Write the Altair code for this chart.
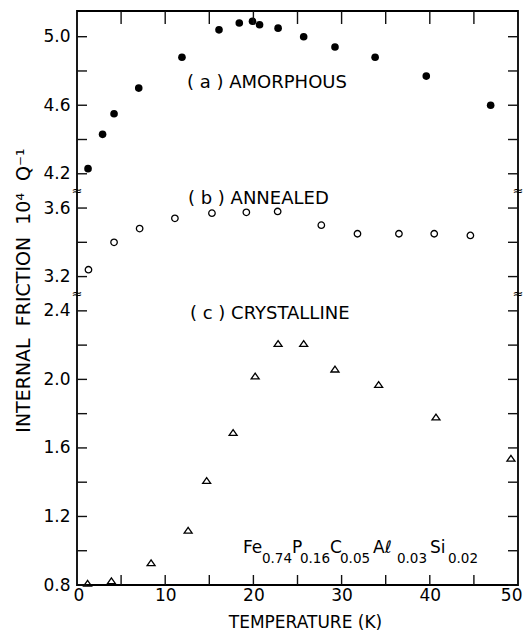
import altair as alt
import pandas as pd

# Internal friction (10^4 Q^-1) against temperature (K) for the three states
amorphous_T = [1.25, 2.9, 4.2, 7.0, 11.9, 16.1, 18.4, 19.9, 20.7, 22.8, 25.7, 29.25, 33.8, 39.6, 46.9]
amorphous_Q = [4.23, 4.43, 4.55, 4.70, 4.88, 5.04, 5.08, 5.09, 5.07, 5.05, 5.00, 4.94, 4.88, 4.77, 4.60]

annealed_T = [1.3, 4.2, 7.1, 11.1, 15.3, 19.2, 22.75, 27.7, 31.8, 36.5, 40.5, 44.6]
annealed_Q = [3.24, 3.40, 3.48, 3.54, 3.57, 3.575, 3.58, 3.50, 3.45, 3.45, 3.45, 3.44]

crystalline_T = [1.2, 3.9, 8.4, 12.6, 14.7, 17.7, 20.2, 22.8, 25.7, 29.25, 34.2, 40.7, 49.2]
crystalline_Q = [0.81, 0.825, 0.93, 1.12, 1.41, 1.69, 2.02, 2.21, 2.21, 2.06, 1.97, 1.78, 1.54]

# y axis ticks of the three bands, and the ones that carry a label
y_ticks_low = [0.8, 1.0, 1.2, 1.4, 1.6, 1.8, 2.0, 2.2, 2.4]
y_ticks_mid = [3.2, 3.4, 3.6]
y_ticks_high = [4.2, 4.4, 4.6, 4.8, 5.0]
y_labels = ["0.8", "1.2", "1.6", "2.0", "2.4", "3.2", "3.6", "4.2", "4.6", "5.0"]

x_labels = [0, 10, 20, 30, 40, 50]
x_inner_ticks = [5, 10, 15, 20, 25, 30, 35, 40, 45]

state_labels = ["( a ) AMORPHOUS", "( b ) ANNEALED", "( c ) CRYSTALLINE"]
state_label_T = [12.47, 12.58, 12.81]
state_label_Q = [4.73, 3.655, 2.383]

formula_main = ["Fe", "P", "C", "A\u2113", "Si"]
formula_main_T = [18.82, 24.38, 28.68, 33.56, 40.02]
formula_sub = ["0.74", "0.16", "0.05", "0.03", "0.02"]
formula_sub_T = [20.97, 25.28, 29.82, 36.28, 42.06]
formula_Q = 0.985

# the y axis is broken twice; each band is shifted down so the bands stack
MID_SHIFT = 0.6
HIGH_SHIFT = 1.0
BREAKS = [2.5, 3.1]
X_MIN, X_MAX = 0, 50
D_MIN, D_MAX = 0.8, 4.15


def squeeze(v):
    if v < 3.0:
        return round(v, 4)
    if v < 3.9:
        return round(v - MID_SHIFT, 4)
    return round(v - HIGH_SHIFT, 4)


FONT = "DejaVu Sans"
W, H = 441, 574
SP = "\u00a0\u00a0"  # wide word gap in the y title
INK = "#111111"

# pixel lengths of the inward ticks, turned into data units
PX_T = W / (X_MAX - X_MIN)
PX_D = H / (D_MAX - D_MIN)
SIDE_TICK = 10 / PX_T
BOTTOM_TICK = 10 / PX_D
TOP_TICK = 13 / PX_D
INSET_T = 0.2 / PX_T
INSET_D = 0.2 / PX_D

y_tick_pos = [squeeze(v) for v in y_ticks_low + y_ticks_mid + y_ticks_high]
label_keys = [round(squeeze(float(s)) * 10) for s in y_labels]
y_label_expr = (
    f"indexof({label_keys}, round(datum.value*10)) >= 0 ? "
    f"{y_labels}[indexof({label_keys}, round(datum.value*10))] : ''"
)

xs = alt.Scale(domain=[X_MIN, X_MAX], nice=False, zero=False, padding=0)
ys = alt.Scale(domain=[D_MIN, D_MAX], nice=False, zero=False, padding=0)

x_bottom = alt.Axis(
    orient="bottom", values=x_labels, ticks=False, tickSize=0, domain=False, grid=False,
    labelPadding=2, labelFontSize=17, labelFont=FONT, labelColor="black",
    labelFlush=True, labelFlushOffset=4, labelOverlap=False,
    title="TEMPERATURE (K)", titleFont=FONT, titleFontSize=17, titleFontWeight="normal",
    titleColor="black", titlePadding=11, titleX=228,
)
y_left = alt.Axis(
    orient="left", values=y_tick_pos, labelExpr=y_label_expr,
    ticks=False, tickSize=0, domain=False, grid=False,
    labelPadding=7, labelFontSize=17, labelFont=FONT, labelColor="black", labelOverlap=False,
    title=f"INTERNAL{SP}FRICTION{SP}10\u2074{SP}Q\u207b\u00b9", titleFont=FONT, titleFontSize=19,
    titleFontWeight="normal", titleColor="black", titlePadding=9, titleY=279,
)


def frame(T, Q, **extra):
    d = pd.DataFrame({"T": T, "Q": Q})
    d["d"] = [squeeze(v) for v in Q]
    for k, v in extra.items():
        d[k] = v
    return d


df_a = frame(amorphous_T, amorphous_Q)
df_b = frame(annealed_T, annealed_Q)
df_c = frame(crystalline_T, crystalline_Q)

X = alt.X("T:Q", scale=xs, axis=None)
Y = alt.Y("d:Q", scale=ys, axis=None)

TRIANGLE = "M-1,0.72L0,-0.72L1,0.72Z"

pts_a = alt.Chart(df_a).mark_point(
    shape="circle", filled=True, color="black", size=58, opacity=1
).encode(
    x=alt.X("T:Q", scale=xs, axis=x_bottom),
    y=alt.Y("d:Q", scale=ys, axis=y_left),
)
pts_b = alt.Chart(df_b).mark_point(
    shape="circle", filled=False, color="black", strokeWidth=1.3, size=42, opacity=1
).encode(x=X, y=Y)
pts_c = alt.Chart(df_c).mark_point(
    shape=TRIANGLE, filled=False, color="black", strokeWidth=1.3, size=64, opacity=1
).encode(x=X, y=Y)

# inward tick marks on all four sides of the frame
n_y, n_x = len(y_tick_pos), len(x_inner_ticks)
tick_left = pd.DataFrame({
    "T": [X_MIN + INSET_T] * n_y, "T2": [X_MIN + SIDE_TICK] * n_y, "d": y_tick_pos})
tick_right = pd.DataFrame({
    "T": [X_MAX - INSET_T] * n_y, "T2": [X_MAX - SIDE_TICK] * n_y, "d": y_tick_pos})
tick_bottom = pd.DataFrame({
    "T": x_inner_ticks, "d": [D_MIN + INSET_D] * n_x, "d2": [D_MIN + BOTTOM_TICK] * n_x})
tick_top = pd.DataFrame({
    "T": x_inner_ticks, "d": [D_MAX - INSET_D] * n_x, "d2": [D_MAX - TOP_TICK] * n_x})

ticks = [
    alt.Chart(tick_left).mark_rule(color=INK, strokeWidth=1.4).encode(x=X, x2="T2:Q", y=Y),
    alt.Chart(tick_right).mark_rule(color=INK, strokeWidth=1.4).encode(x=X, x2="T2:Q", y=Y),
    alt.Chart(tick_bottom).mark_bar(color=INK, width=1.4).encode(x=X, y=Y, y2="d2:Q"),
    alt.Chart(tick_top).mark_bar(color=INK, width=1.4).encode(x=X, y=Y, y2="d2:Q"),
]

# break symbols on both vertical edges
brk = pd.DataFrame({"T": [X_MIN, X_MIN, X_MAX, X_MAX], "d": BREAKS + BREAKS, "s": ["\u2248"] * 4})
breaks = alt.Chart(brk).mark_text(
    font=FONT, fontSize=13, color="black", baseline="middle", align="center"
).encode(x=X, y=Y, text="s:N")

lab = frame(state_label_T, state_label_Q, text=state_labels)
labels = alt.Chart(lab).mark_text(
    font=FONT, fontSize=18, color="black", align="left", baseline="middle"
).encode(x=X, y=Y, text="text:N")

fm = frame(formula_main_T, [formula_Q] * len(formula_main), text=formula_main)
fs = frame(formula_sub_T, [formula_Q] * len(formula_sub), text=formula_sub)
f_main = alt.Chart(fm).mark_text(
    font=FONT, fontSize=17, color="black", align="left", baseline="alphabetic"
).encode(x=X, y=Y, text="text:N")
f_sub = alt.Chart(fs).mark_text(
    font=FONT, fontSize=13.5, color="black", align="left", baseline="alphabetic", dy=10
).encode(x=X, y=Y, text="text:N")

chart = (
    alt.layer(pts_a, pts_b, pts_c, *ticks, breaks, labels, f_main, f_sub)
    .resolve_axis(x="independent", y="independent")
    .properties(
        width=W, height=H,
        autosize=alt.AutoSizeParams(type="none"),
        padding={"left": 77, "top": 11, "right": 7, "bottom": 48},
        background="white",
    )
    .configure_view(stroke="black", strokeWidth=1.8)
)

chart.save("out.html", embed_options={"renderer": "svg", "actions": False})
